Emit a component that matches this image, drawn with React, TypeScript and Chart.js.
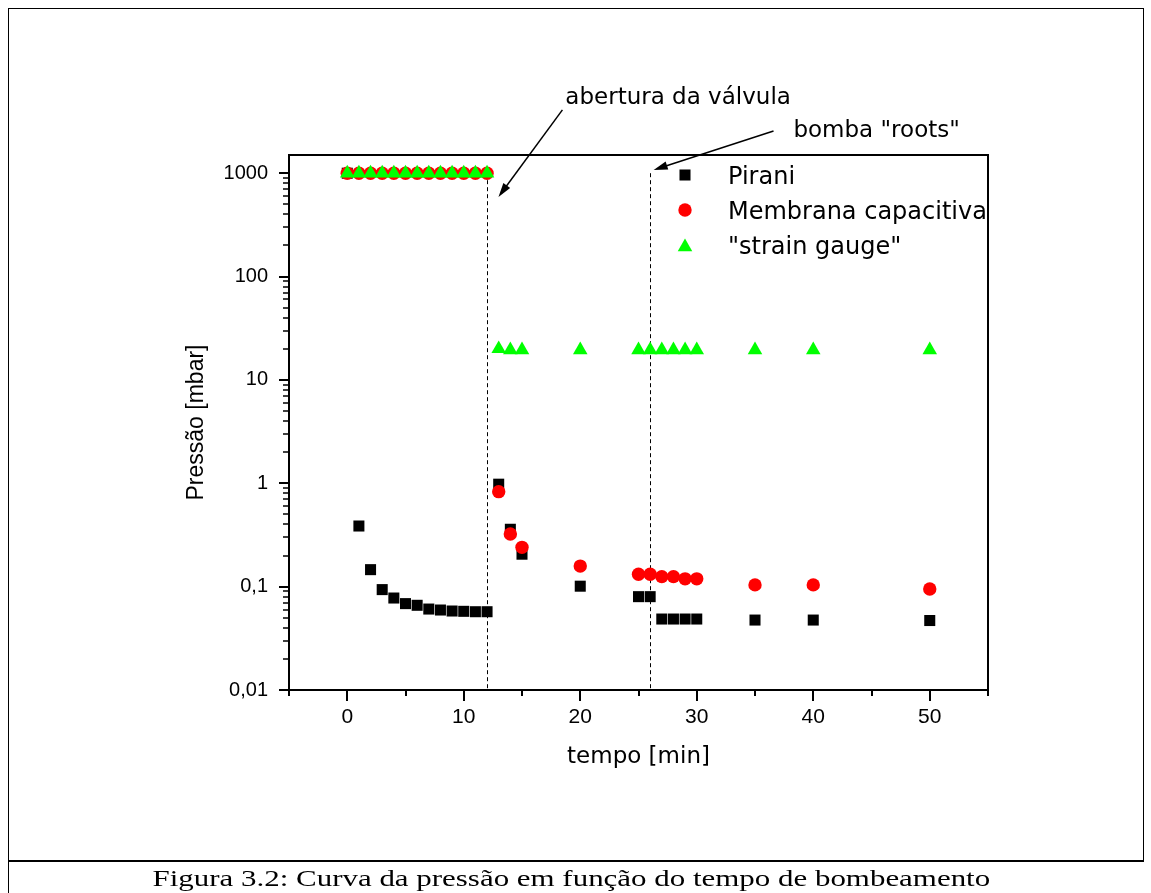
import React, { useEffect, useRef } from "react";
import { Chart, registerables } from "chart.js";

Chart.register(...registerables);

// ---------- data ----------
const TIME_MIN = [0, 1, 2, 3, 4, 5, 6, 7, 8, 9, 10, 11, 12, 13, 14, 15, 20, 25, 26, 27, 28, 29, 30, 35, 40, 50];
const PIRANI = [1000, 0.386, 0.146, 0.0936, 0.0776, 0.0685, 0.066, 0.0607, 0.0594, 0.0581, 0.0577, 0.0572, 0.0572, 0.98, 0.359, 0.206, 0.101, 0.08, 0.08, 0.0486, 0.0486, 0.0486, 0.0486, 0.0475, 0.0475, 0.047];
const MEMBRANA = [1000, 1000, 1000, 1000, 1000, 1000, 1000, 1000, 1000, 1000, 1000, 1000, 1000, 0.83, 0.323, 0.24, 0.158, 0.132, 0.132, 0.125, 0.125, 0.119, 0.119, 0.104, 0.104, 0.095];
const STRAIN = [1000, 1000, 1000, 1000, 1000, 1000, 1000, 1000, 1000, 1000, 1000, 1000, 1000, 20, 19.5, 19.5, 19.5, 19.5, 19.5, 19.5, 19.5, 19.5, 19.5, 19.5, 19.5, 19.5];

const SERIES_LABELS = ["Pirani", "Membrana capacitiva", "\"strain gauge\""];
const SERIES_COLORS = ["#000000", "#ff0000", "#00ff00"];
const SERIES_STYLES = ["rect", "circle", "triangle"];
const SERIES_RADII = [7.8, 6.7, 8.4];

const X_MAJOR = [0, 10, 20, 30, 40, 50];
const X_TICK_LABELS = ["0", "10", "20", "30", "40", "50"];
const X_MINOR = [-5, 5, 15, 25, 35, 45, 55];
const X_MIN = -5;
const X_MAX = 55;

const Y_MAJOR = [0.01, 0.1, 1, 10, 100, 1000];
const Y_TICK_LABELS = ["0,01", "0,1", "1", "10", "100", "1000"];
const Y_MINOR_MULT = [2, 3, 4, 5, 6, 7, 8, 9];
const Y_MIN = 0.01;
const Y_MAX = 1500;

const X_TITLE = "tempo [min]";
const Y_TITLE = "Pressão [mbar]";
const CAPTION = "Figura 3.2: Curva da pressão em função do tempo de bombeamento";

// vertical dashed event lines (time in min, starting pressure)
const EVENT_TIMES = [12, 26];
const EVENT_TOP = 1000;

// annotations in data units (min, mbar)
const ANNOT_TEXT = ["abertura da válvula", "bomba \"roots\""];
const ANNOT_TEXT_POS = [[18.72, 4686], [38.3, 2259]];
const ANNOT_ARROW_FROM = [[18.47, 4100], [36.59, 2565]];
const ANNOT_ARROW_TO = [[12.98, 590], [26.3, 1076]];

const Y_MINOR: number[] = [];
for (let i = 0; i < Y_MAJOR.length - 1; i++) {
  for (const m of Y_MINOR_MULT) Y_MINOR.push(+(Y_MAJOR[i] * m).toPrecision(3));
}

function near(a: number, b: number) {
  return Math.abs(a - b) <= Math.abs(b) * 1e-6;
}

function drawMarker(ctx: CanvasRenderingContext2D, style: string, x: number, y: number, r: number, color: string) {
  ctx.fillStyle = color;
  ctx.beginPath();
  if (style === "rect") {
    const s = Math.SQRT1_2 * r;
    ctx.rect(x - s, y - s, 2 * s, 2 * s);
  } else if (style === "circle") {
    ctx.arc(x, y, r, 0, Math.PI * 2);
  } else {
    const a = Math.PI * 2 / 3;
    ctx.moveTo(x, y - r);
    ctx.lineTo(x + Math.sin(a) * r, y - Math.cos(a) * r);
    ctx.lineTo(x + Math.sin(2 * a) * r, y - Math.cos(2 * a) * r);
    ctx.closePath();
  }
  ctx.fill();
}

function drawArrow(ctx: CanvasRenderingContext2D, x1: number, y1: number, x2: number, y2: number) {
  const ang = Math.atan2(y2 - y1, x2 - x1);
  const L = 14;
  const W = 4.2;
  const c = Math.cos(ang);
  const s = Math.sin(ang);
  const bx = x2 - L * c;
  const by = y2 - L * s;
  ctx.strokeStyle = "#000";
  ctx.fillStyle = "#000";
  ctx.lineWidth = 1.5;
  ctx.beginPath();
  ctx.moveTo(x1, y1);
  ctx.lineTo(bx + 2 * c, by + 2 * s);
  ctx.stroke();
  ctx.beginPath();
  ctx.moveTo(x2, y2);
  ctx.lineTo(bx + W * s, by - W * c);
  ctx.lineTo(bx - W * s, by + W * c);
  ctx.closePath();
  ctx.fill();
}

const overlayPlugin = {
  id: "overlay",
  beforeDatasetsDraw(chart: any) {
    const { ctx, chartArea } = chart;
    const xs = chart.scales.x;
    const ys = chart.scales.y;
    ctx.save();
    ctx.setLineDash([4, 3]);
    ctx.lineWidth = 1;
    ctx.strokeStyle = "#000";
    for (const t of EVENT_TIMES) {
      const px = Math.round(xs.getPixelForValue(t)) + 0.5;
      ctx.beginPath();
      ctx.moveTo(px, ys.getPixelForValue(EVENT_TOP));
      ctx.lineTo(px, chartArea.bottom);
      ctx.stroke();
    }
    ctx.restore();
  },
  afterDraw(chart: any) {
    const { ctx, chartArea } = chart;
    const xs = chart.scales.x;
    const ys = chart.scales.y;
    const { left, right, top, bottom } = chartArea;
    ctx.save();
    // frame
    ctx.strokeStyle = "#000";
    ctx.lineWidth = 2;
    ctx.strokeRect(left, top, right - left, bottom - top);
    // y ticks
    ctx.lineWidth = 2;
    ctx.beginPath();
    for (const v of Y_MAJOR) {
      const py = Math.round(ys.getPixelForValue(v));
      ctx.moveTo(left - 10, py);
      ctx.lineTo(left, py);
    }
    ctx.stroke();
    ctx.lineWidth = 1.6;
    ctx.beginPath();
    for (const v of Y_MINOR) {
      const py = Math.round(ys.getPixelForValue(v));
      ctx.moveTo(left - 6, py);
      ctx.lineTo(left, py);
    }
    ctx.stroke();
    // x ticks
    ctx.lineWidth = 2;
    ctx.beginPath();
    for (const v of X_MAJOR) {
      const px = Math.round(xs.getPixelForValue(v));
      ctx.moveTo(px, bottom);
      ctx.lineTo(px, bottom + 11);
    }
    ctx.stroke();
    ctx.beginPath();
    for (const v of X_MINOR) {
      const px = Math.round(xs.getPixelForValue(v));
      ctx.moveTo(px, bottom);
      ctx.lineTo(px, bottom + 6);
    }
    ctx.stroke();

    // legend
    const lx = right - 303;
    const tx = right - 260;
    ctx.font = "24px 'DejaVu Sans'";
    ctx.textAlign = "left";
    ctx.textBaseline = "alphabetic";
    for (let i = 0; i < SERIES_LABELS.length; i++) {
      const cy = top + 20 + i * 35;
      drawMarker(ctx, SERIES_STYLES[i], lx, cy + (SERIES_STYLES[i] === "triangle" ? 2 : 0), SERIES_RADII[i], SERIES_COLORS[i]);
      ctx.fillStyle = "#000";
      ctx.fillText(SERIES_LABELS[i], tx, cy + 9);
    }

    // annotations
    ctx.font = "23px 'DejaVu Sans'";
    for (let i = 0; i < ANNOT_TEXT.length; i++) {
      const [fx, fy] = ANNOT_ARROW_FROM[i];
      const [tx2, ty2] = ANNOT_ARROW_TO[i];
      drawArrow(ctx, xs.getPixelForValue(fx), ys.getPixelForValue(fy), xs.getPixelForValue(tx2), ys.getPixelForValue(ty2));
      const [ax, ay] = ANNOT_TEXT_POS[i];
      ctx.fillStyle = "#000";
      ctx.fillText(ANNOT_TEXT[i], xs.getPixelForValue(ax), ys.getPixelForValue(ay));
    }
    ctx.restore();
  },
};

export default function App() {
  const ref = useRef<HTMLCanvasElement | null>(null);

  useEffect(() => {
    if (!ref.current) return;
    const seriesValues = [PIRANI, MEMBRANA, STRAIN];
    const datasets = seriesValues.map((vals, i) => ({
      label: SERIES_LABELS[i],
      data: TIME_MIN.map((t, j) => ({ x: t, y: vals[j] })),
      showLine: false,
      pointStyle: SERIES_STYLES[i],
      pointRadius: SERIES_RADII[i],
      pointHoverRadius: SERIES_RADII[i],
      pointBackgroundColor: SERIES_COLORS[i],
      pointBorderColor: SERIES_COLORS[i],
      pointBorderWidth: 0,
      backgroundColor: SERIES_COLORS[i],
      borderColor: SERIES_COLORS[i],
      order: 3 - i,
    }));

    const chart = new Chart(ref.current, {
      type: "scatter",
      data: { datasets },
      options: {
        animation: false,
        responsive: false,
        devicePixelRatio: 1,
        events: [],
        layout: {
          autoPadding: false,
          padding: { left: 0, top: 155, right: 163, bottom: 103 },
        },
        plugins: {
          legend: { display: false },
          tooltip: { enabled: false },
        },
        scales: {
          x: {
            type: "linear",
            min: X_MIN,
            max: X_MAX,
            grid: { display: false, drawTicks: false },
            border: { display: false },
            afterBuildTicks: (s: any) => {
              s.ticks = [...X_MINOR, ...X_MAJOR].sort((a, b) => a - b).map((v) => ({ value: v }));
            },
            afterFit: (s: any) => {
              s.height = 100;
            },
            ticks: {
              autoSkip: false,
              maxRotation: 0,
              minRotation: 0,
              padding: 15,
              color: "#000",
              font: { family: "'Liberation Sans', Arial, sans-serif", size: 21 },
              callback: (value: any) => {
                const idx = X_MAJOR.findIndex((m) => near(Number(value), m));
                return idx >= 0 ? X_TICK_LABELS[idx] : "";
              },
            },
            title: {
              display: true,
              text: X_TITLE,
              color: "#000",
              font: { family: "'DejaVu Sans', sans-serif", size: 23 },
              padding: { top: 0, bottom: 19 },
            },
          },
          y: {
            type: "logarithmic",
            min: Y_MIN,
            max: Y_MAX,
            grid: { display: false, drawTicks: false },
            border: { display: false },
            afterBuildTicks: (s: any) => {
              s.ticks = [...Y_MINOR, ...Y_MAJOR].sort((a, b) => a - b).map((v) => ({ value: v }));
            },
            afterFit: (s: any) => {
              s.width = 289;
            },
            ticks: {
              autoSkip: false,
              padding: 21,
              color: "#000",
              font: { family: "'Liberation Sans', Arial, sans-serif", size: 20 },
              callback: (value: any) => {
                const idx = Y_MAJOR.findIndex((m) => near(Number(value), m));
                return idx >= 0 ? Y_TICK_LABELS[idx] : "";
              },
            },
            title: {
              display: true,
              text: Y_TITLE,
              color: "#000",
              font: { family: "'Liberation Sans', Arial, sans-serif", size: 23 },
              padding: { top: 183, bottom: 0 },
            },
          },
        },
      },
      plugins: [overlayPlugin],
    } as any);

    return () => chart.destroy();
  }, []);

  const line = (l: number, t: number, w: number, h: number) => (
    <div style={{ position: "absolute", left: l, top: t, width: w, height: h, background: "#000" }} />
  );

  return (
    <div style={{ position: "absolute", left: 0, top: 0, width: 1151, height: 893, background: "#fff", overflow: "hidden" }}>
      <canvas ref={ref} width={1151} height={893} style={{ position: "absolute", left: 0, top: 0 }} />
      {line(8, 8, 1136, 1)}
      {line(8, 8, 1, 885)}
      {line(1143, 8, 1, 853)}
      {line(8, 860, 1136, 2)}
      <div
        style={{
          position: "absolute",
          left: 0,
          top: 867,
          width: 1142,
          textAlign: "center",
          fontFamily: "'Liberation Serif', 'Times New Roman', serif",
          fontSize: 23,
          lineHeight: "23px",
          color: "#000",
          whiteSpace: "nowrap",
        }}
      >
        <span style={{ display: "inline-block", transform: "scaleX(1.345)", transformOrigin: "center" }}>{CAPTION}</span>
      </div>
    </div>
  );
}
